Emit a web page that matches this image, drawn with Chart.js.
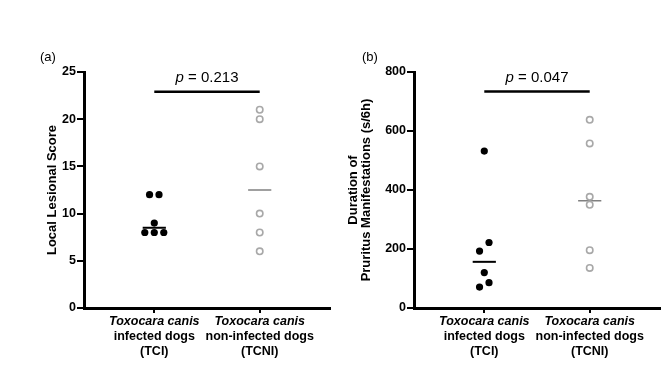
<!DOCTYPE html>
<html>
<head>
<meta charset="utf-8">
<script src="https://cdn.jsdelivr.net/npm/chart.js@4.4.1/dist/chart.umd.min.js"></script>
<style>
  html, body { margin: 0; padding: 0; background: #fff; }
  body { width: 669px; height: 372px; position: relative; overflow: hidden; }
  .panel { position: absolute; top: 0; height: 372px; }
  #pa { left: 0; width: 340px; }
  #pb { left: 340px; width: 329px; }
</style>
</head>
<body>
<div class="panel" id="pa"><canvas id="ca"></canvas></div>
<div class="panel" id="pb"><canvas id="cb"></canvas></div>
<script>
// ---- data ----
const groupLines = [
  ['Toxocara canis', 'infected dogs', '(TCI)'],
  ['Toxocara canis', 'non-infected dogs', '(TCNI)']
];
const lesionTCI = [12, 12, 9, 8, 8, 8];
const lesionTCNI = [21, 20, 15, 10, 8, 6];
const lesionJitterTCI = [-0.5, 0.5, 0, -1, 0, 1];
const pruritusTCI = [532, 222, 193, 120, 86, 71];
const pruritusTCNI = [638, 558, 377, 350, 196, 136];
const pruritusJitterTCI = [0, 0.5, -0.5, 0, 0.5, -0.5];
const pValues = ['0.213', '0.047'];
const sigLevels = [22.9, 734];
const yTicksA = [0, 5, 10, 15, 20, 25];
const yTicksB = [0, 200, 400, 600, 800];

const FONT = "'Liberation Sans', Arial, Helvetica, sans-serif";
const SLOT = 0.09;
const zeros = n => new Array(n).fill(0);
function median(arr) {
  const s = arr.slice().sort((a, b) => a - b);
  const m = s.length / 2;
  return s.length % 2 ? s[Math.floor(m)] : (s[m - 1] + s[m]) / 2;
}

function makePanel(canvasId, opt) {
  const pts = (vals, idx, jit) => vals.map((v, i) => ({ x: idx + jit[i] * SLOT, y: v }));
  const mTCI = median(opt.tci), mTCNI = median(opt.tcni);
  const HW = 0.11;
  const overlay = {
    id: 'overlay' + canvasId,
    afterDraw(chart) {
      const ctx = chart.ctx;
      const xs = chart.scales.x, ys = chart.scales.y;
      ctx.save();
      // panel letter
      ctx.fillStyle = '#000';
      ctx.font = '13px ' + FONT;
      ctx.textAlign = 'left';
      ctx.textBaseline = 'middle';
      ctx.fillText(opt.letter, opt.letterX, 57);
      // p value text
      const bx = (xs.getPixelForValue(0) + xs.getPixelForValue(1)) / 2;
      const by = ys.getPixelForValue(opt.sig);
      ctx.textBaseline = 'alphabetic';
      ctx.font = 'italic 15px ' + FONT;
      const pW = ctx.measureText('p').width;
      ctx.font = '15px ' + FONT;
      const rest = ' = ' + opt.p;
      const rW = ctx.measureText(rest).width;
      const x0 = bx - (pW + rW) / 2;
      ctx.font = 'italic 15px ' + FONT;
      ctx.fillText('p', x0, by - 9.5);
      ctx.font = '15px ' + FONT;
      ctx.fillText(rest, x0 + pW, by - 9.5);
      // category labels
      ctx.textAlign = 'center';
      ctx.textBaseline = 'middle';
      groupLines.forEach((lines, i) => {
        const cx = xs.getPixelForValue(i);
        lines.forEach((t, j) => {
          ctx.font = (j === 0 ? 'italic bold 12.5px ' : 'bold 12.5px ') + FONT;
          ctx.fillText(t, cx, 322 + j * 15);
        });
      });
      ctx.restore();
    }
  };
  return new Chart(document.getElementById(canvasId), {
    type: 'scatter',
    data: {
      datasets: [
        { data: pts(opt.tci, 0, opt.jit), pointRadius: 3.6, pointBackgroundColor: '#000', pointBorderColor: '#000', pointBorderWidth: 0 },
        { data: pts(opt.tcni, 1, zeros(opt.tcni.length)), pointRadius: 3.2, pointBackgroundColor: '#fff', pointBorderColor: '#a8a8a8', pointBorderWidth: 1.6 },
        { type: 'line', data: [{ x: -HW, y: mTCI }, { x: HW, y: mTCI }], borderColor: '#000', borderWidth: 2, pointRadius: 0 },
        { type: 'line', data: [{ x: 1 - HW, y: mTCNI }, { x: 1 + HW, y: mTCNI }], borderColor: '#777', borderWidth: 1.4, pointRadius: 0 },
        { type: 'line', data: [{ x: 0, y: opt.sig }, { x: 1, y: opt.sig }], borderColor: '#000', borderWidth: 2.6, pointRadius: 0 }
      ]
    },
    options: {
      responsive: true,
      maintainAspectRatio: false,
      animation: false,
      events: [],
      layout: { padding: { top: 72, right: opt.padRight, left: 0, bottom: 0 } },
      plugins: { legend: { display: false }, tooltip: { enabled: false } },
      scales: {
        x: {
          type: 'linear', min: -2 / 3, max: 5 / 3,
          afterBuildTicks: s => { s.ticks = [{ value: 0 }, { value: 1 }]; },
          afterFit: s => { s.height = 64; },
          ticks: { display: false },
          grid: { display: true, drawOnChartArea: false, drawTicks: true, tickLength: 5, lineWidth: 2, color: '#000' },
          border: { display: true, width: 3, color: '#000' }
        },
        y: {
          min: 0, max: opt.ymax,
          afterBuildTicks: s => { s.ticks = opt.yticks.map(v => ({ value: v })); },
          afterFit: s => { s.width = opt.yWidth; },
          ticks: { color: '#000', font: { family: FONT, size: 12.5, weight: 'bold' }, padding: 1 },
          grid: { display: true, drawOnChartArea: false, drawTicks: true, tickLength: 7, lineWidth: 2, color: '#000' },
          border: { display: true, width: 3, color: '#000' },
          title: { display: true, text: opt.title, color: '#000', font: { family: FONT, size: 13, weight: 'bold', lineHeight: opt.titleLH }, padding: { top: opt.titlePad, bottom: 0 } }
        }
      }
    },
    plugins: [overlay]
  });
}

makePanel('ca', {
  tci: lesionTCI, tcni: lesionTCNI, jit: lesionJitterTCI, ymax: 25, yticks: yTicksA,
  sig: sigLevels[0], p: pValues[0], letter: '(a)', letterX: 40,
  yWidth: 84, padRight: 10, title: 'Local Lesional Score', titleLH: 1.2, titlePad: 45
});
makePanel('cb', {
  tci: pruritusTCI, tcni: pruritusTCNI, jit: pruritusJitterTCI, ymax: 800, yticks: yTicksB,
  sig: sigLevels[1], p: pValues[1], letter: '(b)', letterX: 22,
  yWidth: 74, padRight: 9, title: ['Duration of', 'Pruritus Manifestations (s/6h)'], titleLH: 1.0, titlePad: 7
});
</script>
</body>
</html>
